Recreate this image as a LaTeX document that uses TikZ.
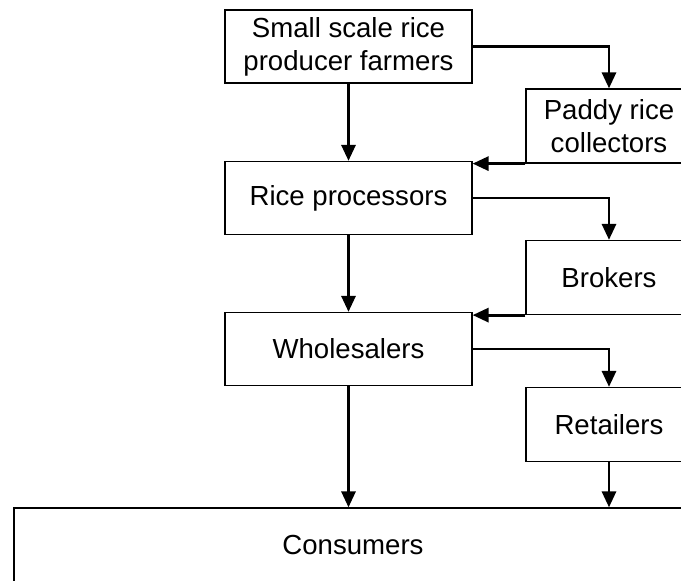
\documentclass[tikz,border=0pt]{standalone}
\usepackage{fontspec}
\setmainfont{Liberation Sans}
\usetikzlibrary{arrows.meta}

\begin{document}
\begin{tikzpicture}
  \useasboundingbox (0, 0) rectangle (13.62, 11.6);
  \clip (0, 0) rectangle (13.62, 11.6);

  \tikzstyle{box}=[rectangle, draw, line width=0.7pt, align=center, inner sep=0pt, font=\fontsize{15.7pt}{18.8pt}\selectfont]
  \tikzstyle{side}=[box, minimum width=3.32cm, minimum height=1.48cm]
  \tikzstyle{main}=[box, minimum width=4.94cm, minimum height=1.46cm]
  \tikzstyle{flow}=[line width=1.7pt, -{Triangle[width=0.28cm, length=0.32cm]}]

  % Kette links
  \node[main] (farmers) at (6.97, 10.67) {Small scale rice\\producer farmers};
  \node[main] (processors) at (6.97, 7.64) {Rice processors};
  \node[main] (wholesalers) at (6.97, 4.62) {Wholesalers};

  % Zwischenhaendler rechts
  \node[side] (paddy) at (12.18, 9.08) {Paddy rice\\collectors};
  \node[side] (brokers) at (12.18, 6.05) {Brokers};
  \node[side] (retailers) at (12.18, 3.11) {Retailers};

  \node[box, minimum width=13.56cm, minimum height=1.48cm] (consumers) at (7.06, 0.70) {Consumers};

  % Pfeile
  \draw[flow] (farmers) -- (processors);
  \draw[flow] (processors) -- (wholesalers);
  \draw[flow] (wholesalers.south) -- (wholesalers.south |- consumers.north);

  \draw[flow] (farmers.east) -| (paddy.north);
  \draw[flow] (processors.east) -| (brokers.north);
  \draw[flow] (wholesalers.east) -| (retailers.north);

  \draw[flow] (paddy.south west) -- (paddy.south west -| processors.east);
  \draw[flow] (brokers.south west) -- (brokers.south west -| wholesalers.east);
  \draw[flow] (retailers.south) -- (retailers.south |- consumers.north);
\end{tikzpicture}
\end{document}
